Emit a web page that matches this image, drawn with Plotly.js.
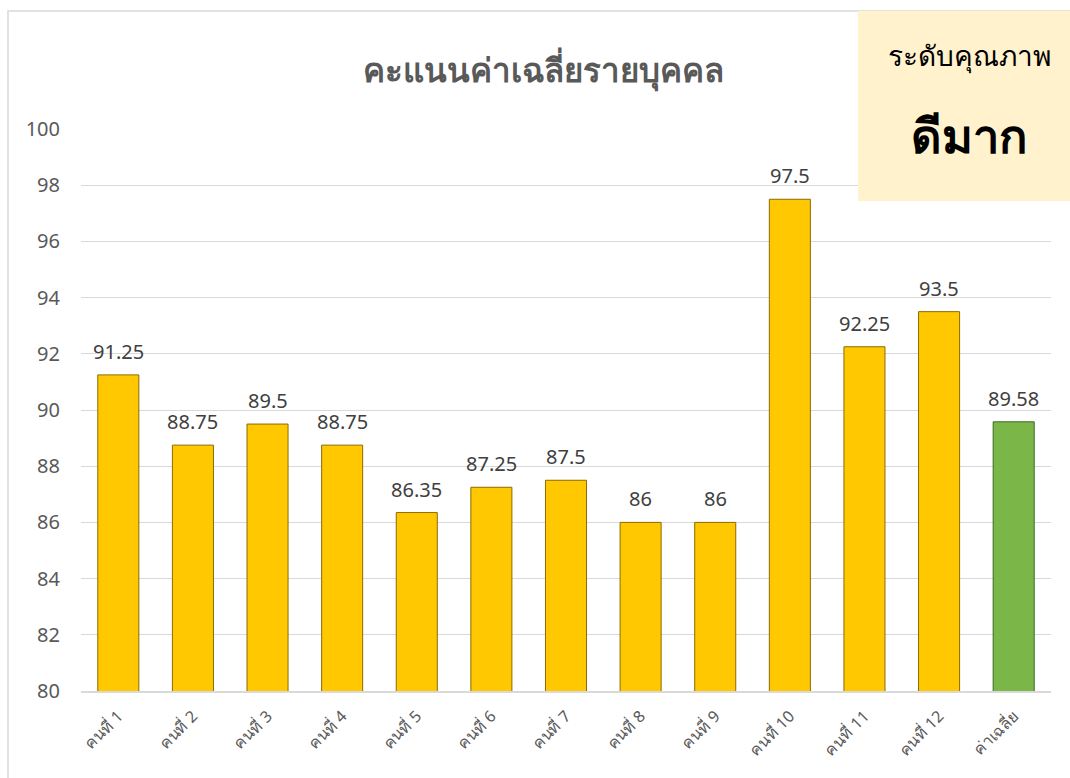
<!DOCTYPE html>
<html>
<head>
<meta charset="utf-8">
<script src="https://cdn.plot.ly/plotly-3.0.1.min.js"></script>
<style>html,body{margin:0;padding:0;background:#fff;}#chart{width:1070px;height:778px;}</style>
</head>
<body>
<div id="chart"></div>
<script>
var categories = ["คนที่ 1","คนที่ 2","คนที่ 3","คนที่ 4","คนที่ 5","คนที่ 6","คนที่ 7","คนที่ 8","คนที่ 9","คนที่ 10","คนที่ 11","คนที่ 12","ค่าเฉลี่ย"];
var scores = [91.25, 88.75, 89.5, 88.75, 86.35, 87.25, 87.5, 86, 86, 97.5, 92.25, 93.5, 89.58];
var scoreLabels = ["91.25","88.75","89.5","88.75","86.35","87.25","87.5","86","86","97.5","92.25","93.5","89.58"];
var yTicks = [80, 82, 84, 86, 88, 90, 92, 94, 96, 98, 100];
var chartTitle = "คะแนนค่าเฉลี่ยรายบุคคล";
var levelLabel = "ระดับคุณภาพ";
var levelValue = "ดีมาก";

var fillColors = categories.map(function(c, i){ return i === categories.length - 1 ? "#7AB648" : "#FFC800"; });
var lineColors = categories.map(function(c, i){ return i === categories.length - 1 ? "#3F6B22" : "#8C6A00"; });

var FONT = "Noto Sans, Tahoma, sans-serif";
var L = 81, R = 19, T = 129, B = 87, W = 1070 - L - R, H = 778 - T - B;
function px(x){ return (x - L) / W; }
function py(y){ return (778 - B - y) / H; }

var trace = {
  type: "bar",
  x: categories,
  y: scores,
  marker: {color: fillColors, line: {color: lineColors, width: 1}},
  hoverinfo: "x+y"
};

var labelAnnotations = categories.map(function(c, i){
  return {xref: "x", yref: "y", x: c, y: scores[i], text: scoreLabels[i],
    showarrow: false, xanchor: "center", yanchor: "bottom", yshift: 8,
    font: {family: FONT, size: 20, color: "#404040"}};
});

var layout = {
  width: 1070, height: 778,
  margin: {l: L, r: R, t: T, b: B},
  paper_bgcolor: "#ffffff",
  plot_bgcolor: "#ffffff",
  bargap: 0.45,
  showlegend: false,
  font: {family: FONT, color: "#595959"},
  title: {
    text: "<b>" + chartTitle + "</b>",
    font: {family: FONT, size: 33, color: "#595959"},
    xref: "container", x: 0.508, xanchor: "center",
    yref: "container", y: 0.91, yanchor: "middle"
  },
  xaxis: {
    type: "category",
    tickangle: -45,
    tickfont: {family: FONT, size: 16, color: "#595959"},
    showline: true, linecolor: "#D9D9D9", linewidth: 1.5,
    ticks: "", showgrid: false,
    ticklabelstandoff: 8,
    automargin: false
  },
  yaxis: {
    range: [80, 100],
    tickvals: yTicks,
    ticktext: yTicks.map(String),
    tickfont: {family: FONT, size: 20, color: "#595959"},
    showgrid: true, gridcolor: "#D9D9D9", gridwidth: 1,
    zeroline: false, showline: false, ticks: "",
    ticklabelstandoff: 20,
    automargin: false
  },
  shapes: [
    {type: "rect", xref: "paper", yref: "paper",
     x0: px(8), x1: px(1090), y0: py(800), y1: py(11),
     line: {color: "#D9D9D9", width: 1.5}, fillcolor: "rgba(0,0,0,0)", layer: "below"},
    {type: "rect", xref: "paper", yref: "paper",
     x0: px(858), x1: px(1090), y0: py(201), y1: py(11),
     line: {width: 0}, fillcolor: "#FFF2CC", layer: "above"}
  ],
  annotations: labelAnnotations.concat([
    {xref: "paper", yref: "paper", x: px(969), y: py(55),
     text: levelLabel, showarrow: false, xanchor: "center", yanchor: "middle",
     font: {family: FONT, size: 28, color: "#000000"}},
    {xref: "paper", yref: "paper", x: px(969), y: py(135),
     text: "<b>" + levelValue + "</b>", showarrow: false, xanchor: "center", yanchor: "middle",
     font: {family: FONT, size: 47, color: "#000000"}}
  ])
};

Plotly.newPlot("chart", [trace], layout, {staticPlot: true, displayModeBar: false});
</script>
</body>
</html>
